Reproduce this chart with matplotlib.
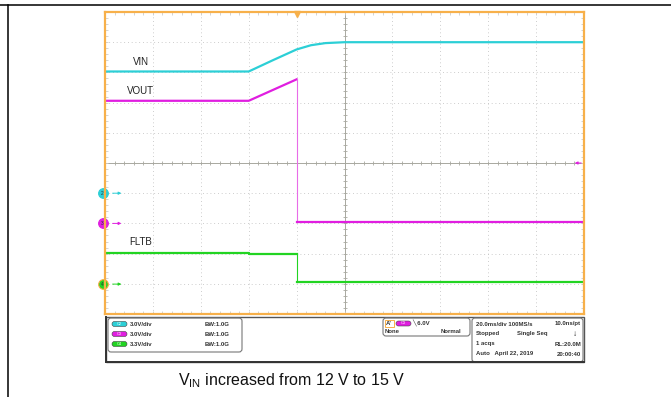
import matplotlib
matplotlib.use("Agg")
import matplotlib.pyplot as plt
import numpy as np
from matplotlib.patches import FancyBboxPatch, Rectangle

plt.rcParams["font.family"] = ["Liberation Sans", "DejaVu Sans"]

# traces, x in time divisions (0..10), y in vertical divisions (0..10)
vin_t = [0, 3.0, 3.5, 4.0, 4.3, 4.6, 5.0, 10]
vin_v = [8.03, 8.03, 8.40, 8.76, 8.90, 8.97, 9.00, 9.00]

vout_t = [0, 3.0, 4.0, 4.0, 10]
vout_v = [7.06, 7.06, 7.77, 3.05, 3.05]

fltb_t = [0, 3.0, 3.0, 4.0, 4.0, 10]
fltb_v = [2.03, 2.03, 2.0, 2.0, 1.05, 1.05]

# channel ground markers (channel, level)
ch_names = ["2", "3", "4"]
ch_levels = [4.0, 3.0, 0.99]
trig_level = 5.0
trig_pos = 4.0

cyan = "#2ccfd6"
magenta = "#e01ee0"
green = "#22d422"
orange = "#f7b04a"

ch_rows = ["3.0V/div", "3.0V/div", "3.3V/div"]
bw_rows = ["BW:1.0G", "BW:1.0G", "BW:1.0G"]
caption = "V$_{\\mathregular{IN}}$ increased from 12 V to 15 V"

fig = plt.figure(figsize=(6.71, 3.97), dpi=100)

# page overlay in pixel coordinates
page = fig.add_axes([0, 0, 1, 1])
page.set_xlim(0, 671)
page.set_ylim(397, 0)
page.axis("off")
page.plot([0, 671], [5, 5], color="black", lw=1.1)
page.plot([8, 8], [5, 397], color="black", lw=1.1)

# scope screen
ax = fig.add_axes([105 / 671, 1 - 314 / 397, 479 / 671, 302 / 397])
ax.set_xlim(0, 10)
ax.set_ylim(0, 10)
ax.set_xticks([])
ax.set_yticks([])
for s in ax.spines.values():
    s.set_color(orange)
    s.set_linewidth(1.6)

for i in range(1, 10):
    if i == 5:
        continue
    ax.axvline(i, color="#bcbcbc", lw=0.6, ls=(0, (1, 3.5)))
    ax.axhline(i, color="#bcbcbc", lw=0.6, ls=(0, (1, 3.5)))
ax.axvline(5, color="#a8a8a0", lw=0.7)
ax.axhline(5, color="#a8a8a0", lw=0.7)

minor = np.arange(0, 10.01, 0.2)
ax.plot(minor, np.full(minor.size, 5), ls="none", marker="|", ms=3, color="#a8a8a0", mew=0.6)
ax.plot(np.full(minor.size, 5), minor, ls="none", marker="_", ms=3, color="#a8a8a0", mew=0.6)
ax.plot(minor, np.full(minor.size, 10), ls="none", marker="|", ms=4, color="#cccccc", mew=0.6)
ax.plot(minor, np.full(minor.size, 0), ls="none", marker="|", ms=4, color="#cccccc", mew=0.6)
ax.plot(np.full(minor.size, 0), minor, ls="none", marker="_", ms=4, color="#cccccc", mew=0.6)
ax.plot(np.full(minor.size, 10), minor, ls="none", marker="_", ms=4, color="#cccccc", mew=0.6)

# traces
ax.plot(vin_t, vin_v, color=cyan, lw=1.6, solid_joinstyle="round")
ax.plot(vout_t[:3], vout_v[:3], color=magenta, lw=1.6)
ax.plot(vout_t[2:4], vout_v[2:4], color="#e86ce8", lw=0.8)
ax.plot(vout_t[3:], vout_v[3:], color=magenta, lw=1.6)
ax.plot(fltb_t[:4], fltb_v[:4], color=green, lw=1.6)
ax.plot(fltb_t[3:5], fltb_v[3:5], color=green, lw=0.8)
ax.plot(fltb_t[4:], fltb_v[4:], color=green, lw=1.6)

ax.text(0.58, 8.25, "VIN", fontsize=7, color="#222222")
ax.text(0.45, 7.28, "VOUT", fontsize=7, color="#222222")
ax.text(0.5, 2.27, "FLTB", fontsize=7, color="#222222")

# ground markers, trigger markers
for name, lev, col in zip(ch_names, ch_levels, [cyan, magenta, green]):
    edge = orange if name == "4" else col
    ax.plot([-0.05], [lev], marker="o", ms=7, color=col, mec=edge, mew=0.8, clip_on=False)
    ax.text(-0.05, lev, name, fontsize=3.5, ha="center", va="center", color="#333333")
    ax.annotate("", xy=(0.4, lev), xytext=(0.1, lev),
                arrowprops=dict(arrowstyle="-|>", color=col, lw=0.7, mutation_scale=4))
ax.annotate("", xy=(9.75, trig_level), xytext=(10.0, trig_level),
            arrowprops=dict(arrowstyle="-|>", color=magenta, lw=0.7, mutation_scale=4))
ax.plot([trig_pos], [9.93], marker="v", ms=4, color=orange, clip_on=False)

# info panel
page.add_patch(Rectangle((106, 317), 478, 45, fill=False, ec="#555555", lw=1.0))
page.plot([106, 106], [317, 362], color="#333333", lw=1.4)
page.plot([106, 584], [362, 362], color="#333333", lw=1.4)
page.add_patch(FancyBboxPatch((108, 318), 134, 34, boxstyle="round,pad=0,rounding_size=3",
                              fill=False, ec="#777777", lw=0.8))
page.add_patch(FancyBboxPatch((383, 318), 87, 18, boxstyle="round,pad=0,rounding_size=3",
                              fill=False, ec="#777777", lw=0.8))
page.add_patch(FancyBboxPatch((472, 318), 111, 44, boxstyle="round,pad=0,rounding_size=3",
                              fill=False, ec="#777777", lw=0.8))

small = dict(fontsize=4.3, fontweight="bold", color="#333333", va="center")
for k, (row, bw, col, lab) in enumerate(zip(ch_rows, bw_rows, [cyan, magenta, green], ["C2", "C3", "C4"])):
    y = 324 + 10 * k
    page.add_patch(FancyBboxPatch((112, y - 2.5), 15, 5, boxstyle="round,pad=0,rounding_size=2.5",
                                  fc=col, ec="#444444", lw=0.4))
    page.text(119.5, y, lab, fontsize=2.8, ha="center", va="center", color="white")
    page.text(130, y, row, **small)
    page.text(205, y, bw, **small)

page.add_patch(Rectangle((384.5, 320), 9, 7, fill=False, ec=orange, lw=0.7))
page.text(386, 323.5, "A'", **small)
page.add_patch(FancyBboxPatch((396, 321), 15, 5, boxstyle="round,pad=0,rounding_size=2.5",
                              fc=magenta, ec="#444444", lw=0.4))
page.text(403.5, 323.5, "C3", fontsize=2.8, ha="center", va="center", color="white")
page.text(412, 323.5, "\u2572 6.0V", **small)
page.text(385, 331.5, "None", **small)
page.text(461, 331.5, "Normal", ha="right", **small)

page.text(476, 324, "20.0ms/div 100MS/s", **small)
page.text(581, 324, "10.0ns/pt", ha="right", **small)
page.text(476, 334, "Stopped", **small)
page.text(517, 334, "Single Seq", **small)
page.text(575, 334, "\u2193", fontsize=6, fontweight="bold", color="#222222", ha="center", va="center")
page.text(476, 344, "1 acqs", **small)
page.text(581, 344, "RL:20.0M", ha="right", **small)
page.text(476, 354, "Auto   April 22, 2019", **small)
page.text(581, 354, "20:00:40", ha="right", **small)

page.text(292, 381, caption, fontsize=11.5, ha="center", va="center", color="#111111")

fig.savefig("out.png", dpi=100)
